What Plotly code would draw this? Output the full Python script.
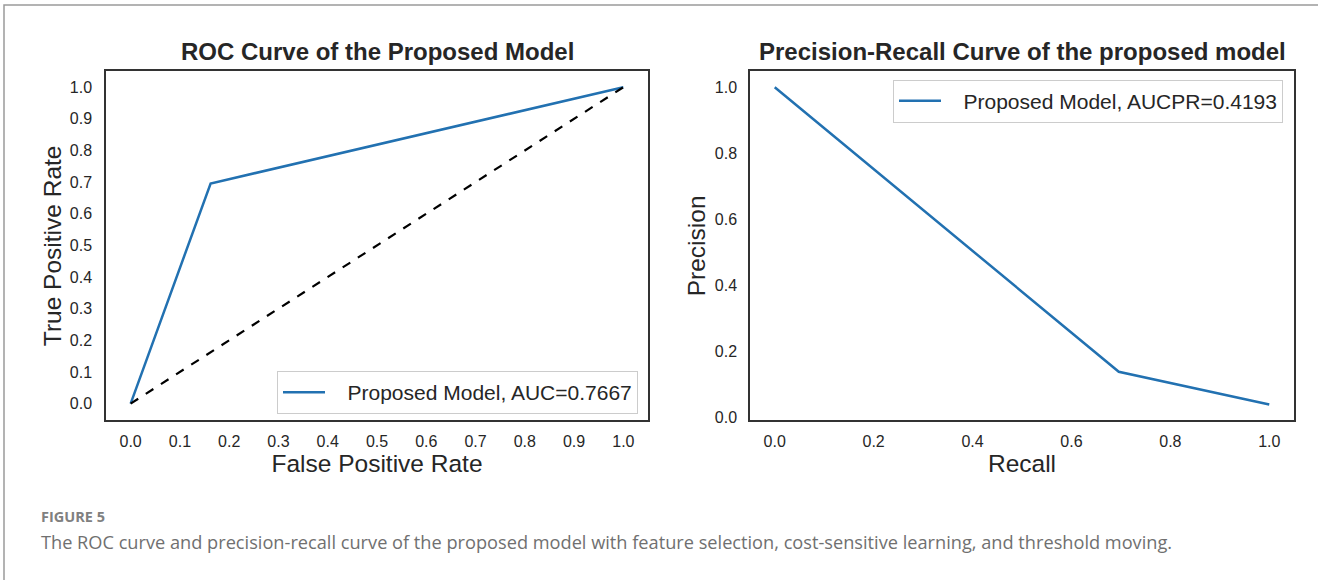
import plotly.graph_objects as go

# ---- data ----
roc_fpr = [0.0, 0.1623, 1.0]
roc_tpr = [0.0, 0.6957, 1.0]
chance_x = [0.0, 1.0]
chance_y = [0.0, 1.0]
pr_recall = [0.0, 0.6957, 1.0]
pr_precision = [1.0, 0.137, 0.038]
roc_label = "Proposed Model, AUC=0.7667"
pr_label = "Proposed Model, AUCPR=0.4193"
roc_xticks = [0.0, 0.1, 0.2, 0.3, 0.4, 0.5, 0.6, 0.7, 0.8, 0.9, 1.0]
roc_yticks = [0.0, 0.1, 0.2, 0.3, 0.4, 0.5, 0.6, 0.7, 0.8, 0.9, 1.0]
pr_xticks = [0.0, 0.2, 0.4, 0.6, 0.8, 1.0]
pr_yticks = [0.0, 0.2, 0.4, 0.6, 0.8, 1.0]

W, H = 1318, 580
BLUE = "#2271b1"
INK = "#262626"
FONT = "Liberation Sans, Arial, sans-serif"
PAD = "\u00a0\u00a0\u00a0"

def px(x):
    return x / W

def py(y):
    return 1 - y / H

fig = go.Figure()
fig.add_trace(go.Scatter(x=roc_fpr, y=roc_tpr, mode="lines", name=PAD + roc_label,
                         line=dict(color=BLUE, width=2.5), xaxis="x", yaxis="y", legend="legend"))
fig.add_trace(go.Scatter(x=chance_x, y=chance_y, mode="lines", showlegend=False,
                         line=dict(color="black", width=2.2, dash="dash"), xaxis="x", yaxis="y"))
fig.add_trace(go.Scatter(x=pr_recall, y=pr_precision, mode="lines", name=PAD + pr_label,
                         line=dict(color=BLUE, width=2.5), xaxis="x2", yaxis="y2", legend="legend2"))

axis_common = dict(showline=True, mirror=True, linecolor="#333333", linewidth=1.5,
                   showgrid=False, zeroline=False, ticks="",
                   tickfont=dict(family=FONT, size=16, color=INK))
title_font = dict(family=FONT, size=24.5, color=INK)
legend_common = dict(bgcolor="white", bordercolor="#cccccc", borderwidth=1, itemwidth=42,
                     font=dict(family=FONT, size=21, color=INK))

fig.update_layout(
    width=W, height=H,
    margin=dict(l=0, r=0, t=0, b=0),
    paper_bgcolor="white", plot_bgcolor="white",
    font=dict(family=FONT, color=INK),
    xaxis=dict(domain=[px(106), px(648)], range=[-0.05, 1.05], tickvals=roc_xticks,
               ticktext=[f"{v:.1f}" for v in roc_xticks], anchor="y", ticklabelstandoff=6,
               title=dict(text="False Positive Rate", font=title_font, standoff=6),
               **axis_common),
    yaxis=dict(domain=[py(424), py(72)], range=[-0.053, 1.05], tickvals=roc_yticks,
               ticktext=[f"{v:.1f}" for v in roc_yticks], anchor="x", ticklabelstandoff=9,
               title=dict(text="True Positive Rate", font=title_font, standoff=1),
               **axis_common),
    xaxis2=dict(domain=[px(750), px(1294)], range=[-0.05, 1.05], tickvals=pr_xticks,
                ticktext=[f"{v:.1f}" for v in pr_xticks], anchor="y2", ticklabelstandoff=6,
                title=dict(text="Recall", font=title_font, standoff=6),
                **axis_common),
    yaxis2=dict(domain=[py(424), py(72)], range=[-0.0101, 1.048], tickvals=pr_yticks,
                ticktext=[f"{v:.1f}" for v in pr_yticks], anchor="x2", ticklabelstandoff=8,
                title=dict(text="Precision", font=title_font, standoff=2),
                **axis_common),
    legend=dict(x=px(638), y=py(396), xanchor="right", yanchor="middle", **legend_common),
    legend2=dict(x=px(1283), y=py(102), xanchor="right", yanchor="middle", **legend_common),
    showlegend=True,
)

# subplot titles
fig.add_annotation(text="<b>ROC Curve of the Proposed Model</b>", x=px(377), y=py(52),
                   xref="paper", yref="paper", showarrow=False, xanchor="center", yanchor="middle",
                   font=dict(family=FONT, size=24, color=INK))
fig.add_annotation(text="<b>Precision-Recall Curve of the proposed model</b>", x=px(1022), y=py(52),
                   xref="paper", yref="paper", showarrow=False, xanchor="center", yanchor="middle",
                   font=dict(family=FONT, size=24, color=INK))

# caption
fig.add_annotation(text="<b>FIGURE 5</b>", x=px(39), y=py(521), xref="paper", yref="paper",
                   showarrow=False, xanchor="left", yanchor="middle",
                   font=dict(family="Open Sans, sans-serif", size=14.5, color="#808080"))
fig.add_annotation(text="The ROC curve and precision-recall curve of the proposed model with feature selection, cost-sensitive learning, and threshold moving.",
                   x=px(39), y=py(547), xref="paper", yref="paper",
                   showarrow=False, xanchor="left", yanchor="middle",
                   font=dict(family="Open Sans, sans-serif", size=18.2, color="#707070"))

# card border
fig.add_shape(type="rect", xref="paper", yref="paper", x0=px(4), y0=-0.05, x1=1.05, y1=py(5),
              line=dict(color="#9a9a9a", width=1.5), fillcolor="rgba(0,0,0,0)", layer="below")

fig.write_html("out.html")
